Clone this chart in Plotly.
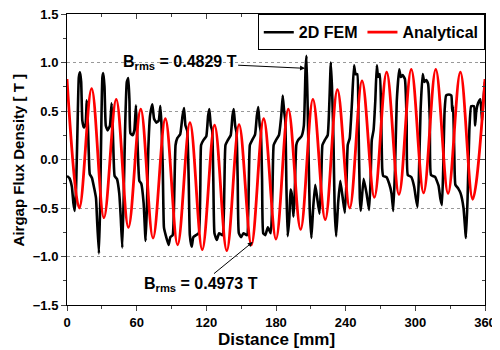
import plotly.graph_objects as go

# ---- data ----
ana_x = [0, 10.6, 21.2, 31.8, 42.4, 52.9, 63.5, 74.1, 84.7, 95.3, 105.9, 116.5, 127.1, 137.6,
         148.2, 158.8, 169.4, 180.0, 190.6, 201.2, 211.8, 222.4, 232.9, 243.5, 254.1, 264.7,
         275.3, 285.9, 296.5, 307.1, 317.6, 328.2, 338.8, 349.4, 360]
ana_y = [0.83, -0.50, 0.73, -0.60, 0.62, -0.70, 0.52, -0.81, 0.42, -0.88, 0.38, -0.93, 0.355, -0.94,
         0.36, -0.88, 0.42, -0.82, 0.52, -0.72, 0.62, -0.62, 0.72, -0.50, 0.81, -0.39,
         0.90, -0.36, 0.93, -0.345, 0.93, -0.35, 0.90, -0.41, 0.83]

fem_x = [0, 2, 4.2, 5.5, 6.6, 7.8, 9, 10.2, 11.2, 12.2, 13.2, 14.5, 16, 17, 18, 18.8, 19.6, 21.5,
         23.5, 25, 26, 27.5, 28.5, 29.5, 30.5, 31.3, 32.3, 33.4, 35, 37, 38.4, 39.4, 40.2, 41,
         43, 45, 46.3, 47.6, 48.8, 50, 51.5, 52.8, 53.8, 54.6, 56.5, 58, 59.4, 60.4, 61.4, 62.3,
         64, 66, 67.7, 68.8, 70, 71.5, 73.5, 75, 77, 79, 80.4, 81.4, 82.5, 83.5, 85, 87.5, 89,
         91, 92.5, 93.5, 95, 97.5, 99.5, 100.8, 102, 103.5, 104.8, 105.8, 107.4, 108.8, 111,
         113.5, 114.8, 115.5, 117.5, 120, 121.5, 122.6, 123.8, 125, 126, 127, 129, 131, 134,
         135.5, 136.5, 138.5, 141, 142.5, 143.6, 144.8, 146, 147, 148, 150, 152, 155, 156.5,
         157.5, 159.5, 162, 163.5, 164.7, 166, 167, 168, 169, 170.8, 173, 175.5, 177, 178, 180,
         182.5, 184.5, 185.8, 187, 188, 189, 190, 191.5, 192.5, 193.5, 195, 196, 197.5, 199,
         202, 204, 205.5, 206.3, 207.5, 209, 210.5, 212, 213.8, 215.5, 217.5, 219, 220, 222,
         224.5, 226, 227.2, 228.2, 229.5, 230.5, 231.8, 233.5, 235.4, 237.5, 239.3, 240.8,
         241.8, 243.5, 245.5, 247.2, 248.5, 250, 251, 252.2, 253, 255.5, 258, 260.2, 261.5,
         262.5, 264, 265.5, 266.8, 268, 269.5, 270.5, 271.5, 272.3, 275, 277.5, 279.5, 281,
         282.5, 284, 286.1, 287.5, 289, 291, 292.5, 293.5, 296.5, 299, 300.5, 301.9, 303,
         304.5, 306.3, 307.8, 309.5, 311, 312.5, 313.5, 317, 320, 321.5, 322.9, 324, 325.2,
         326.5, 329, 331, 331.8, 332.5, 333.5, 334.5, 337, 339, 341.5, 343.6, 345, 346.5,
         348.1, 350.5, 351.5, 352.5, 354, 356, 357.5, 358.5, 360]
fem_y = [-0.17, -0.19, -0.28, -0.45, -0.53, -0.30, 0.30, 0.85, 0.90, 0.80, 0.40, 0.33, 0.36, 0.61,
         0.35, 0.05, -0.15, -0.19, -0.30, -0.40, -0.65, -0.97, -0.50, 0.30, 0.85, 0.89, 0.75,
         0.35, 0.30, 0.35, 0.58, 0.32, 0.0, -0.17, -0.20, -0.35, -0.60, -0.91, -0.40, 0.30,
         0.80, 0.84, 0.60, 0.27, 0.25, 0.30, 0.56, 0.28, -0.05, -0.22, -0.25, -0.45, -0.84,
         -0.50, 0.10, 0.45, 0.57, 0.42, 0.38, 0.40, 0.55, 0.35, -0.10, -0.70, -0.78, -0.88,
         -0.80, -0.78, -0.30, 0.15, 0.22, 0.26, 0.45, 0.53, 0.35, 0.30, -0.20, -0.78, -0.90,
         -0.80, -0.78, -0.76, -0.30, 0.15, 0.20, 0.24, 0.45, 0.52, 0.35, 0.30, -0.20, -0.76,
         -0.83, -0.76, -0.78, -0.30, 0.15, 0.20, 0.25, 0.45, 0.52, 0.35, 0.28, -0.20, -0.76,
         -0.80, -0.76, -0.78, -0.30, 0.15, 0.20, 0.26, 0.45, 0.54, 0.35, 0.28, -0.20, -0.76,
         -0.78, -0.70, -0.76, -0.30, 0.15, 0.20, 0.25, 0.45, 0.66, 0.50, 0.40, -0.30, -0.79,
         -0.60, -0.31, -0.35, -0.59, -0.40, 0.15, 0.20, 0.24, 0.35, 0.95, 1.07, 0.40, -0.50,
         -0.81, -0.50, -0.26, -0.40, -0.56, -0.20, 0.15, 0.20, 0.25, 0.60, 1.00, 0.75, 0.20,
         -0.50, -0.79, -0.45, -0.22, -0.40, -0.55, -0.20, 0.15, 0.22, 0.60, 0.97, 0.88, 0.88,
         0.40, -0.40, -0.53, -0.20, -0.35, -0.52, -0.20, 0.20, 0.30, 0.60, 0.97, 0.85, 0.88,
         0.50, -0.10, -0.17, -0.18, -0.25, -0.35, -0.53, -0.10, 0.60, 0.93, 0.85, 0.87, 0.83,
         0.40, -0.16, -0.18, -0.28, -0.40, -0.49, -0.20, 0.50, 0.88, 0.80, 0.82, 0.78, 0.40,
         -0.16, -0.18, -0.27, -0.40, -0.47, -0.10, 0.50, 0.66, 0.67, 0.66, 0.50, 0.55, 0.10,
         -0.26, -0.30, -0.35, -0.50, -0.81, -0.40, 0.30, 0.55, 0.55, 0.35, 0.50, 0.58, 0.62,
         0.40, 0.60, 0.80]

x_ticks = [0, 60, 120, 180, 240, 300, 360]
y_ticks = [-1.5, -1.0, -0.5, 0.0, 0.5, 1.0, 1.5]

FONT = "Liberation Sans, Arial, sans-serif"

fig = go.Figure()
fig.add_trace(go.Scatter(x=fem_x, y=fem_y, mode="lines", name="2D FEM",
                         line=dict(color="black", width=2.6, shape="spline", smoothing=0.4)))
fig.add_trace(go.Scatter(x=ana_x, y=ana_y, mode="lines", name="Analytical",
                         line=dict(color="#ff0000", width=2.8, shape="spline", smoothing=1.0)))
# helper trace for mirrored inside ticks on top/right
fig.add_trace(go.Scatter(x=[None], y=[None], xaxis="x2", yaxis="y2", showlegend=False,
                         hoverinfo="skip"))

# page body has an 8px margin, so the figure is sized to fit the 500x350 window
fig.update_layout(
    width=492, height=342,
    margin=dict(l=59, r=15, t=6, b=45),
    paper_bgcolor="white", plot_bgcolor="white",
    font=dict(family=FONT, color="black"),
    showlegend=True,
    legend=dict(orientation="h", x=0.9995, xanchor="right", y=0.999, yanchor="top",
                bgcolor="white", bordercolor="black", borderwidth=1,
                font=dict(family=FONT, size=16, weight="bold"),
                itemwidth=30, tracegroupgap=0),
    xaxis=dict(range=[0, 360], tickvals=x_ticks, ticks="outside", ticklen=5, tickwidth=1,
               showline=True, linecolor="black", linewidth=1, mirror=True,
               showgrid=False, zeroline=False, automargin=False, ticklabeloverflow="allow",
               minor=dict(dtick=30, ticks="outside", ticklen=3, tickwidth=1),
               tickfont=dict(family=FONT, size=13, weight="bold")),
    yaxis=dict(range=[-1.5, 1.5], tickvals=y_ticks, tickformat=".1f", ticks="outside",
               ticklen=5, tickwidth=1,
               showline=True, linecolor="black", linewidth=1, mirror=True,
               showgrid=True, gridcolor="#999999", griddash="dot", gridwidth=1,
               zeroline=False, automargin=False, ticklabeloverflow="allow",
               minor=dict(dtick=0.25, ticks="outside", ticklen=3, tickwidth=1),
               tickfont=dict(family=FONT, size=13, weight="bold")),
    xaxis2=dict(range=[0, 360], overlaying="x", side="top", tickvals=x_ticks, ticks="inside",
                ticklen=5, showticklabels=False, showgrid=False, zeroline=False,
                automargin=False, minor=dict(dtick=30, ticks="inside", ticklen=3)),
    yaxis2=dict(range=[-1.5, 1.5], overlaying="y", side="right", tickvals=y_ticks,
                ticks="inside", ticklen=5, showticklabels=False, showgrid=False,
                zeroline=False, automargin=False,
                minor=dict(dtick=0.25, ticks="inside", ticklen=3)),
)

# axis titles
fig.add_annotation(text="Distance [mm]", xref="paper", yref="paper", x=0.5, y=-0.12,
                   xanchor="center", yanchor="middle", showarrow=False,
                   font=dict(family=FONT, size=17, weight="bold", color="black"))
fig.add_annotation(text="Airgap Flux Density [ T ]", xref="paper", yref="paper", x=-0.115,
                   y=0.5, xanchor="center", yanchor="middle", textangle=-90, showarrow=False,
                   font=dict(family=FONT, size=15, weight="bold", color="black"))

fig.add_annotation(x=205, y=0.94, ax=97, ay=1.0, xref="x", yref="y", axref="x", ayref="y",
                   text="B<sub>rms</sub> = 0.4829 T", showarrow=True, arrowhead=2,
                   arrowsize=1, arrowwidth=1, arrowcolor="black",
                   font=dict(family=FONT, size=16, weight="bold", color="black"))
fig.add_annotation(x=160, y=-0.85, ax=115, ay=-1.29, xref="x", yref="y", axref="x", ayref="y",
                   text="B<sub>rms</sub> = 0.4973 T", showarrow=True, arrowhead=2,
                   arrowsize=1, arrowwidth=1, arrowcolor="black",
                   font=dict(family=FONT, size=16, weight="bold", color="black"))

fig.write_html("out.html")
